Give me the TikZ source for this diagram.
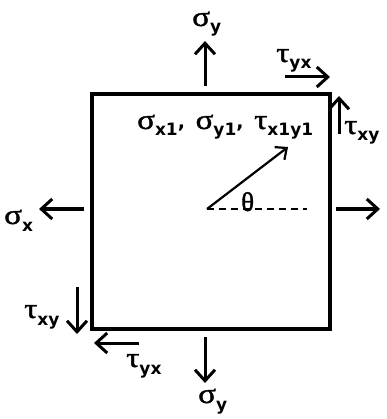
\documentclass[tikz,border=0pt]{standalone}
\usepackage{fontspec}
\setmainfont{DejaVu Sans}
\newfontfamily\gkfont[FakeBold=1.2]{Liberation Serif}
\newfontfamily\subfont{DejaVu Sans}
\usetikzlibrary{arrows.meta}
\newcommand{\gk}[1]{\scalebox{1.18}[1]{\gkfont\fontsize{28}{30}\selectfont #1}}
\newcommand{\gsym}[2]{\gk{#1}\raisebox{-7pt}{\subfont\bfseries\fontsize{17}{19}\selectfont #2}}
\newcommand{\sep}{{\bfseries\fontsize{19}{21}\selectfont ,\ \hspace{4pt}}}
\begin{document}
\begin{tikzpicture}[x=1pt,y=-1pt,
  force/.style={line width=3pt,-{Straight Barb[length=11pt,width=20pt]}},
  lbl/.style={inner sep=0pt,anchor=base west}]
\useasboundingbox[fill=white] (0,0) rectangle (386,419);
\node[draw,line width=3.4pt,minimum width=238pt,minimum height=235pt,inner sep=0pt] (box) at (211,211.5) {};
% force arrow end points
\coordinate (syTa) at (205,86);   \coordinate (syTb) at (205,41);
\coordinate (tyxTa) at (285,77);  \coordinate (tyxTb) at (330,77);
\coordinate (txyRa) at (339,134); \coordinate (txyRb) at (339,96);
\coordinate (sxLa) at (84,209);   \coordinate (sxLb) at (39,209);
\coordinate (sxRa) at (336,209);  \coordinate (sxRb) at (380,209);
\coordinate (txyLa) at (77,287);  \coordinate (txyLb) at (77,334);
\coordinate (tyxBa) at (139,343); \coordinate (tyxBb) at (94,343);
\coordinate (syBa) at (205,337);  \coordinate (syBb) at (205,383);
\coordinate (o) at (207,209);
\coordinate (p) at (288,147);
\coordinate (q) at (307,209);
\draw[force] (syTa) -- (syTb);
\draw[force] (tyxTa) -- (tyxTb);
\draw[force] (txyRa) -- (txyRb);
\draw[force] (sxLa) -- (sxLb);
\draw[force] (sxRa) -- (sxRb);
\draw[force] (txyLa) -- (txyLb);
\draw[force] (tyxBa) -- (tyxBb);
\draw[force] (syBa) -- (syBb);
\draw[line width=2.2pt,-{Straight Barb[length=9pt,width=16pt]}] (o) -- (p);
\draw[line width=2.2pt,dash pattern=on 7pt off 5pt] (o) -- (q);
% labels
\node[lbl] (lsyT) at (192,26) {\gsym{σ}{y}};
\node[lbl] (ltyxT) at (276,62) {\gsym{τ}{yx}};
\node[lbl] (ltxyR) at (344,134) {\gsym{τ}{xy}};
\node[lbl] (lsxL) at (4,224) {\gsym{σ}{x}};
\node[lbl] (ltxyL) at (24,318) {\gsym{τ}{xy}};
\node[lbl] (ltyxB) at (126,367) {\gsym{τ}{yx}};
\node[lbl] (lsyB) at (198,403) {\gsym{σ}{y}};
\node[lbl] (lstress) at (137,129) {\gsym{σ}{x1}\sep\gsym{σ}{y1}\sep\gsym{τ}{x1y1}};
\node[lbl] (ltheta) at (241,211) {{\gkfont\fontsize{27}{28}\selectfont θ}};
\end{tikzpicture}
\end{document}
